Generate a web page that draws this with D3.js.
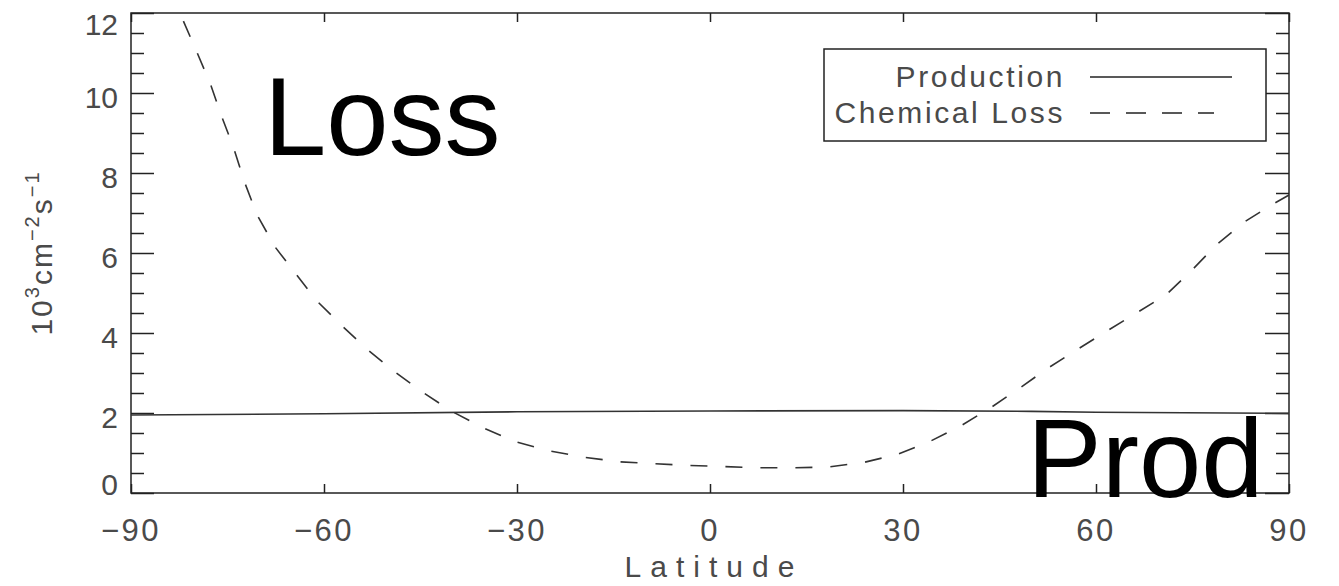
<!DOCTYPE html>
<html><head><meta charset="utf-8">
<script src="https://cdn.jsdelivr.net/npm/d3@7"></script>
<style>body{margin:0;background:#fff}svg{display:block}</style>
</head><body>
<svg id="chart" width="1339" height="586"></svg>
<script>
// ---- data ----
const lossLatitudes = [-84,-82,-79.7,-77.6,-76,-74.2,-72.3,-70.4,-67.6,-64.4,-61.1,-57,-53.2,-49,-44.5,-40,-35,-30.2,-24.9,-19.4,-14,-8.5,-3.3,2.2,7.6,13,18.3,23.8,29.2,34.2,39,43.7,48.2,52.5,57.2,61.9,66.5,71,74.9,78.7,83,87.8,90];
const lossValues    = [12.6,11.85,11.0,10.2,9.45,8.7,7.75,6.95,6.15,5.48,4.8,4.15,3.58,3.03,2.5,2.03,1.61,1.28,1.05,0.89,0.78,0.73,0.69,0.66,0.63,0.63,0.65,0.76,0.97,1.29,1.68,2.14,2.63,3.12,3.6,4.07,4.52,4.97,5.57,6.2,6.77,7.25,7.45];
const prodLatitudes = [-90,-60,-30,0,30,50,60,90];
const prodValues    = [1.95,1.98,2.03,2.05,2.06,2.04,2.02,1.99];
const xTickValues = [-90,-60,-30,0,30,60,90];
const yTickValues = [0,2,4,6,8,10,12];
const yMinorValues = [0.5,1,1.5,2.5,3,3.5,4.5,5,5.5,6.5,7,7.5,8.5,9,9.5,10.5,11,11.5];
const legendLabels = ["Production","Chemical Loss"];
const xTitle = "Latitude";
const bigLabels = ["Loss","Prod"];

// ---- drawing ----
const svg = d3.select("#chart");
const L = 131, R = 1289, T = 13, B = 493;
const x = d3.scaleLinear().domain([-90,90]).range([L,R]);
const y = d3.scaleLinear().domain([0,12]).range([B,T]);
const txt = "#4a4a4a", ink = "#222";
const font = "'Liberation Sans', Arial, sans-serif";

svg.append("defs").append("clipPath").attr("id","plot")
  .append("rect").attr("x",L).attr("y",T).attr("width",R-L).attr("height",B-T);

// ticks via axes (inward)
function styleAxis(g){
  g.select(".domain").remove();
  g.selectAll(".tick line").attr("stroke",ink).attr("stroke-width",1.5);
  g.selectAll(".tick text").remove();
}
svg.append("g").attr("transform",`translate(0,${B})`)
  .call(d3.axisBottom(x).tickValues(xTickValues).tickSize(-9).tickFormat("")).call(styleAxis);
svg.append("g").attr("transform",`translate(0,${T})`)
  .call(d3.axisTop(x).tickValues(xTickValues).tickSize(-9).tickFormat("")).call(styleAxis);
svg.append("g").attr("transform",`translate(${L},0)`)
  .call(d3.axisLeft(y).tickValues(yTickValues).tickSize(-23).tickFormat("")).call(styleAxis);
svg.append("g").attr("transform",`translate(${L},0)`)
  .call(d3.axisLeft(y).tickValues(yMinorValues).tickSize(-13).tickFormat("")).call(styleAxis);
svg.append("g").attr("transform",`translate(${R},0)`)
  .call(d3.axisRight(y).tickValues(yTickValues).tickSize(-24).tickFormat("")).call(styleAxis);
svg.append("g").attr("transform",`translate(${R},0)`)
  .call(d3.axisRight(y).tickValues(yMinorValues).tickSize(-13).tickFormat("")).call(styleAxis);

// frame
svg.append("rect").attr("x",L).attr("y",T).attr("width",R-L).attr("height",B-T)
  .attr("fill","none").attr("stroke",ink).attr("stroke-width",1.5);

// tick labels
svg.append("g").selectAll("text").data(xTickValues).join("text")
  .attr("x",d=>x(d)).attr("y",541).attr("text-anchor","middle")
  .attr("font-family",font).attr("font-size",31).attr("fill",txt).attr("letter-spacing",2.5)
  .text(d=>d<0?"\u2212"+Math.abs(d):String(d));
svg.append("g").selectAll("text").data(yTickValues).join("text")
  .attr("x",118).attr("y",d=>Math.min(Math.max(y(d)+3.5,24),484)+11).attr("text-anchor","end")
  .attr("font-family",font).attr("font-size",30).attr("fill",txt)
  .text(d=>String(d));

// axis titles
svg.append("text").attr("x",x(0)+4).attr("y",577).attr("text-anchor","middle")
  .attr("font-family",font).attr("font-size",30).attr("fill",txt).attr("letter-spacing",9)
  .text(xTitle);
const yt = svg.append("text").attr("transform","translate(52,253) rotate(-90)")
  .attr("text-anchor","middle").attr("font-family",font).attr("font-size",30).attr("fill",txt)
  .attr("letter-spacing",2);
yt.append("tspan").text("10");
yt.append("tspan").attr("font-size",20).attr("dy",-13).text("3");
yt.append("tspan").attr("dy",13).text("cm");
yt.append("tspan").attr("font-size",20).attr("dy",-13).text("\u22122");
yt.append("tspan").attr("dy",13).text("s");
yt.append("tspan").attr("font-size",20).attr("dy",-13).text("\u22121");

// curves
const plot = svg.append("g").attr("clip-path","url(#plot)");
const line = d3.line().x(d=>x(d[0])).y(d=>y(d[1]));
plot.append("path").datum(d3.zip(prodLatitudes,prodValues)).attr("d",line)
  .attr("fill","none").attr("stroke","#333").attr("stroke-width",1.6);
plot.append("path").datum(d3.zip(lossLatitudes,lossValues)).attr("d",line)
  .attr("fill","none").attr("stroke","#333").attr("stroke-width",1.6).attr("stroke-dasharray","17,18");

// legend
svg.append("rect").attr("x",824).attr("y",49).attr("width",442).attr("height",92)
  .attr("fill","#fff").attr("stroke",ink).attr("stroke-width",1.5);
const legY = [77,113];
svg.append("g").selectAll("text").data(legendLabels).join("text")
  .attr("x",1065).attr("y",(d,i)=>legY[i]+10).attr("text-anchor","end")
  .attr("font-family",font).attr("font-size",30).attr("fill",txt).attr("letter-spacing",2.6)
  .text(d=>d);
svg.append("line").attr("x1",1090).attr("x2",1232).attr("y1",legY[0]).attr("y2",legY[0])
  .attr("stroke","#222").attr("stroke-width",1.6);
svg.append("line").attr("x1",1090).attr("x2",1214).attr("y1",legY[1]).attr("y2",legY[1])
  .attr("stroke","#222").attr("stroke-width",1.6).attr("stroke-dasharray","20,16");

// big annotations
svg.append("text").attr("x",264).attr("y",155).attr("font-family",font).attr("font-size",112)
  .attr("fill","#000").text(bigLabels[0]);
svg.append("text").attr("x",1027).attr("y",497).attr("font-family",font).attr("font-size",112)
  .attr("fill","#000").text(bigLabels[1]);
</script>
</body></html>
